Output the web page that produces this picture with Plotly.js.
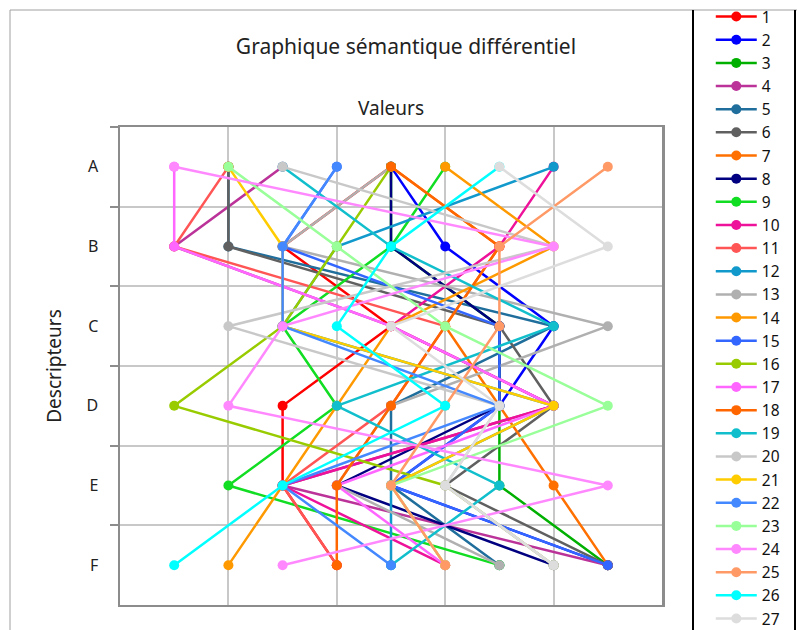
<!DOCTYPE html>
<html>
<head>
<meta charset="utf-8">
<script src="https://cdn.plot.ly/plotly-3.0.1.min.js"></script>
<style>html,body{margin:0;padding:0;background:#fff;}#chart{width:797px;height:630px;}</style>
</head>
<body>
<div id="chart"></div>
<script>
// Descriptors (rows) and values (1..9) for each respondent series
const descripteurs = ['A', 'B', 'C', 'D', 'E', 'F'];
const seriesNames = ['1','2','3','4','5','6','7','8','9','10','11','12','13','14','15','16','17','18','19','20','21','22','23','24','25','26','27'];
const s1  = [5, 3, 5, 3, 3, 4];
const s2  = [5, 6, 8, 7, 5, 9];
const s3  = [5, 5, 7, 7, 7, 9];
const s4  = [3, 1, 5, 8, 3, 9];
const s5  = [2, 2, 8, 5, 5, 7];
const s6  = [2, 2, 7, 8, 6, 9];
const s7  = [5, 7, 6, 7, 8, 9];
const s8  = [5, 5, 7, 7, 4, 8];
const s9  = [6, 5, 3, 4, 2, 7];
const s10 = [8, 7, 5, 8, 3, 6];
const s11 = [2, 1, 6, 5, 3, 4];
const s12 = [8, 4, 3, 8, 5, 5];
const s13 = [5, 3, 9, 5, 4, 7];
const s14 = [6, 8, 5, 4, 3, 2];
const s15 = [4, 3, 7, 7, 5, 9];
const s16 = [5, 4, 3, 1, 6, 8];
const s17 = [1, 1, 5, 8, 4, 6];
const s18 = [5, 7, 6, 5, 4, 4];
const s19 = [3, 5, 8, 4, 7, 5];
const s20 = [3, 8, 2, 7, 6, 8];
const s21 = [2, 3, 3, 8, 5, 6];
const s22 = [4, 3, 3, 7, 3, 5];
const s23 = [2, 4, 6, 9, 5, 6];
const s24 = [1, 8, 3, 2, 9, 3];
const s25 = [9, 7, 7, 6, 5, 6];
const s26 = [7, 5, 4, 6, 3, 1];
const s27 = [7, 9, 5, 7, 6, 8];
const allSeries = [s1,s2,s3,s4,s5,s6,s7,s8,s9,s10,s11,s12,s13,s14,s15,s16,s17,s18,s19,s20,s21,s22,s23,s24,s25,s26,s27];
const colors = ['#FF0000','#0000FF','#00B000','#BB3399','#1F6E9C','#606060','#FF7000','#000080','#11DD22','#EE1199',
                '#FF5555','#1199CC','#B0B0B0','#FF9900','#3366FF','#99CC00','#FF66FF','#FF6600','#11BFCC','#C8C8C8',
                '#FFCC00','#4488FF','#99FF99','#FF88FF','#FF9966','#00FFFF','#DDDDDD'];

const FONT = 'Noto Sans, Open Sans, DejaVu Sans, sans-serif';

const traces = allSeries.map((vals, i) => ({
  type: 'scatter',
  mode: 'lines+markers',
  name: seriesNames[i],
  x: vals,
  y: descripteurs,
  line: {color: colors[i], width: 2.5},
  marker: {color: colors[i], size: 10},
  cliponaxis: false
}));

const layout = {
  width: 797, height: 630,
  margin: {l: 120, r: 135, t: 127, b: 25},
  paper_bgcolor: '#ffffff',
  plot_bgcolor: '#ffffff',
  font: {family: FONT, color: '#222', size: 15},
  title: {text: 'Graphique sémantique différentiel', font: {family: FONT, size: 21, color: '#222'},
          x: 406/797, xanchor: 'center', y: 1 - 47/630, yanchor: 'middle', automargin: false},
  showlegend: true,
  legend: {x: 1.09, xanchor: 'left', y: 1.236, yanchor: 'top', maxheight: 1000, itemwidth: 41,
           font: {family: FONT, size: 15.5, color: '#111'}, tracegroupgap: 0,
           bgcolor: 'rgba(0,0,0,0)', borderwidth: 0},
  xaxis: {
    range: [0, 10], dtick: 2, tick0: 0, side: 'top', automargin: false,
    showticklabels: false, ticks: '',
    showgrid: true, gridcolor: '#C8C8C8', gridwidth: 2,
    zeroline: false, showline: true, linecolor: '#8C8C8C', linewidth: 2, mirror: true,
    title: {text: 'Valeurs', font: {family: FONT, size: 19, color: '#222'}, standoff: 4}
  },
  yaxis: {
    type: 'category', categoryorder: 'array', categoryarray: descripteurs,
    range: [5.5, -0.5], autorange: false, tickson: 'boundaries', automargin: false,
    ticks: 'outside', ticklen: 8, tickwidth: 2, tickcolor: '#8C8C8C',
    ticklabelstandoff: 16,
    tickfont: {family: FONT, size: 16, color: '#222'},
    showgrid: true, gridcolor: '#C8C8C8', gridwidth: 2,
    zeroline: false, showline: true, linecolor: '#8C8C8C', linewidth: 2.5, mirror: true,
    title: {text: 'Descripteurs', font: {family: FONT, size: 19, color: '#222'}, standoff: 20}
  },
  shapes: [
    {type: 'rect', xref: 'paper', yref: 'paper', x0: (10-120)/542, x1: (800-120)/542, y0: (605-640)/478, y1: (605-10)/478,
     line: {color: '#A0A0A0', width: 1}, fillcolor: 'rgba(0,0,0,0)', layer: 'below'},
    {type: 'line', xref: 'paper', yref: 'paper', x0: (693-120)/542, x1: (693-120)/542, y0: (605-640)/478, y1: (605-10)/478,
     line: {color: '#000', width: 2}},
    {type: 'line', xref: 'paper', yref: 'paper', x0: (795-120)/542, x1: (795-120)/542, y0: (605-640)/478, y1: (605-10)/478,
     line: {color: '#000', width: 2}}
  ]
};

Plotly.newPlot('chart', traces, layout, {displayModeBar: false, staticPlot: true});
</script>
</body>
</html>
